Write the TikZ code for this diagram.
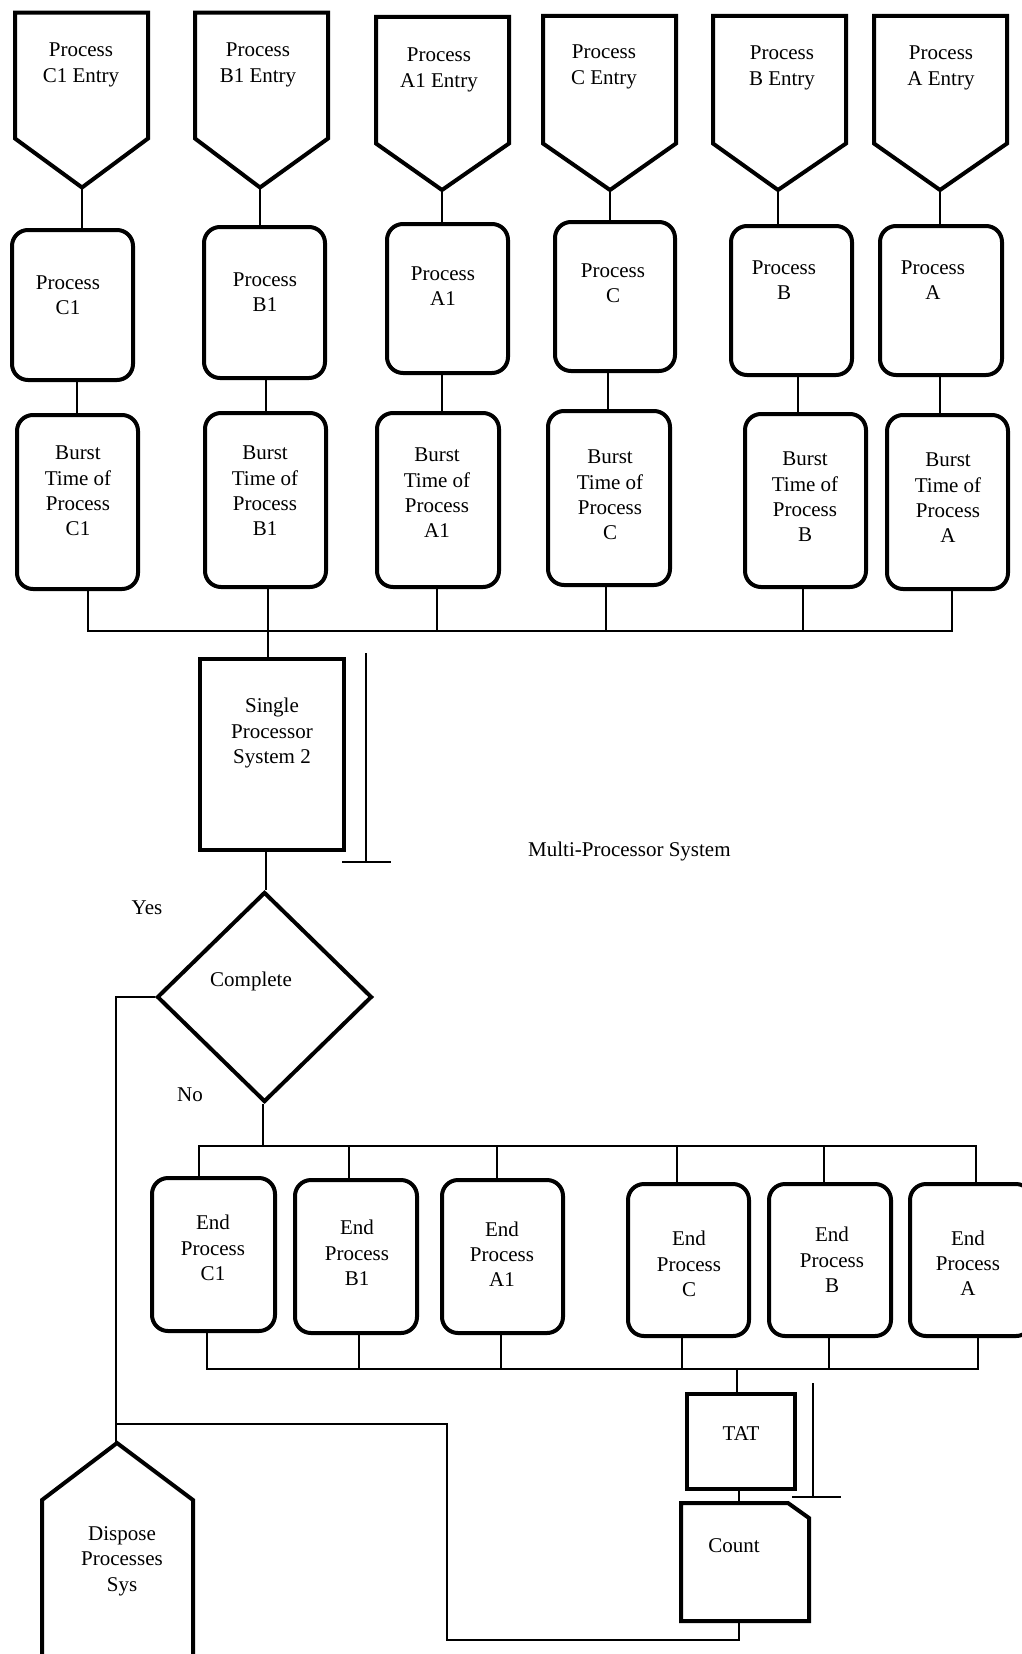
\documentclass[tikz,border=0pt]{standalone}
\usepackage{fontspec}
\setmainfont{Liberation Serif}
\usetikzlibrary{shapes.geometric,shapes.misc}
\tikzset{
  shp/.style={line width=4pt, line join=miter},
  rbox/.style={draw, line width=4pt, rounded corners=16pt, inner sep=0pt},
  sbox/.style={draw, line width=4pt, inner sep=0pt},
  conn/.style={line width=1.8pt},
  txt/.style={font=\fontsize{21}{25.3}\selectfont, align=center, inner sep=0pt, yshift=-3pt}
}
\begin{document}
\begin{tikzpicture}[x=1pt,y=-1pt]
\clip (0,0) rectangle (1022,1654);
\fill[white] (0,0) rectangle (1022,1654);

% ---------- entry shapes ----------
\draw[shp] (15,12.6) -- (148,12.6) -- (148,138.5) -- (82,187.5) -- (15,138.5) -- cycle;
\coordinate (tC1) at (82,187.5);
\node[txt] (etC1) at (81,62) {Process\\C1 Entry};
\draw[shp] (195,12.6) -- (328,12.6) -- (328,138.5) -- (260,187.5) -- (195,138.5) -- cycle;
\coordinate (tB1) at (260,187.5);
\node[txt] (etB1) at (258,62) {Process\\B1 Entry};
\draw[shp] (376,17) -- (509,17) -- (509,143.5) -- (442,190) -- (376,143.5) -- cycle;
\coordinate (tA1) at (442,190);
\node[txt] (etA1) at (439,67) {Process\\A1 Entry};
\draw[shp] (543,16) -- (676,16) -- (676,143.5) -- (610,190) -- (543,143.5) -- cycle;
\coordinate (tC) at (610,190);
\node[txt] (etC) at (604,64) {Process\\C Entry};
\draw[shp] (713,16) -- (846,16) -- (846,143.5) -- (778,190) -- (713,143.5) -- cycle;
\coordinate (tB) at (778,190);
\node[txt] (etB) at (782,65) {Process\\B Entry};
\draw[shp] (874,16) -- (1007,16) -- (1007,143.5) -- (940,190) -- (874,143.5) -- cycle;
\coordinate (tA) at (940,190);
\node[txt] (etA) at (941,65) {Process\\A Entry};

% ---------- process boxes ----------
\node[rbox, minimum width=121, minimum height=150] (pC1) at (72.5,305) {};
\node[txt] (ptC1) at (68,292) {Process\\C1};
\node[rbox, minimum width=121, minimum height=151] (pB1) at (264.5,302.5) {};
\node[txt] (ptB1) at (265,289) {Process\\B1};
\node[rbox, minimum width=121, minimum height=149] (pA1) at (447.5,298.5) {};
\node[txt] (ptA1) at (443,283) {Process\\A1};
\node[rbox, minimum width=120, minimum height=149] (pC) at (615,296.5) {};
\node[txt] (ptC) at (613,280) {Process\\C};
\node[rbox, minimum width=121, minimum height=149] (pB) at (791.5,300.5) {};
\node[txt] (ptB) at (784,277) {Process\\B};
\node[rbox, minimum width=122, minimum height=149] (pA) at (941,300.5) {};
\node[txt] (ptA) at (933,277) {Process\\A};

% ---------- burst boxes ----------
\node[rbox, minimum width=121, minimum height=174] (bC1) at (77.5,502) {};
\node[txt] (btC1) at (78,488) {Burst\\Time of\\Process\\C1};
\node[rbox, minimum width=121, minimum height=174] (bB1) at (265.5,500) {};
\node[txt] (btB1) at (265,488) {Burst\\Time of\\Process\\B1};
\node[rbox, minimum width=122, minimum height=174] (bA1) at (438,500) {};
\node[txt] (btA1) at (437,490) {Burst\\Time of\\Process\\A1};
\node[rbox, minimum width=122, minimum height=174] (bC) at (609,498) {};
\node[txt] (btC) at (610,492) {Burst\\Time of\\Process\\C};
\node[rbox, minimum width=121, minimum height=173] (bB) at (805.5,500.5) {};
\node[txt] (btB) at (805,494) {Burst\\Time of\\Process\\B};
\node[rbox, minimum width=121, minimum height=174] (bA) at (947.5,502) {};
\node[txt] (btA) at (948,495) {Burst\\Time of\\Process\\A};

% ---------- connectors top ----------
\draw[conn] (tC1) -- (tC1 |- pC1.north);
\draw[conn] (tB1) -- (tB1 |- pB1.north);
\draw[conn] (tA1) -- (tA1 |- pA1.north);
\draw[conn] (tC) -- (tC |- pC.north);
\draw[conn] (tB) -- (tB |- pB.north);
\draw[conn] (tA) -- (tA |- pA.north);

\draw[conn] (77,0 |- pC1.south) -- (77,0 |- bC1.north);
\draw[conn] (266,0 |- pB1.south) -- (266,0 |- bB1.north);
\draw[conn] (442,0 |- pA1.south) -- (442,0 |- bA1.north);
\draw[conn] (608,0 |- pC.south) -- (608,0 |- bC.north);
\draw[conn] (798,0 |- pB.south) -- (798,0 |- bB.north);
\draw[conn] (940,0 |- pA.south) -- (940,0 |- bA.north);

\coordinate (bar1L) at (88,631);
\coordinate (bar1R) at (952,631);
\draw[conn] (88,0 |- bC1.south) -- (bar1L) -- (bar1R) -- (952,0 |- bA.south);
\draw[conn] (268,0 |- bB1.south) -- (268,631);
\draw[conn] (437,0 |- bA1.south) -- (437,631);
\draw[conn] (606,0 |- bC.south) -- (606,631);
\draw[conn] (803,0 |- bB.south) -- (803,631);

% ---------- single processor ----------
\node[sbox, minimum width=144, minimum height=191] (sp) at (272,754.5) {};
\node[txt] (spt) at (272,730) {Single\\Processor\\System 2};
\draw[conn] (268,631) -- (268,0 |- sp.north);
\coordinate (br1t) at (366,653);
\coordinate (br1b) at (366,862);
\draw[conn] (br1t) -- (br1b);
\draw[conn] (342,862) -- (391,862);
\node[txt, anchor=west] (mps) at (528,848) {Multi-Processor System};

% ---------- decision ----------
\node[diamond, draw, line width=4pt, minimum width=215, minimum height=210, inner sep=0pt] (dia) at (264.5,997) {};
\node[txt] (diat) at (251,978) {Complete};
\draw[conn] (266,0 |- sp.south) -- (266,0 |- dia.north);
\node[txt] (yes) at (147,905) {Yes};
\node[txt] (no) at (190,1092) {No};

% ---------- end boxes ----------
\node[rbox, minimum width=123, minimum height=153] (eC1) at (213.5,1254.5) {};
\node[txt] (etxC1) at (213,1245) {End\\Process\\C1};
\node[rbox, minimum width=122, minimum height=153] (eB1) at (356,1256.5) {};
\node[txt] (etxB1) at (357,1250) {End\\Process\\B1};
\node[rbox, minimum width=121, minimum height=153] (eA1) at (502.5,1256.5) {};
\node[txt] (etxA1) at (502,1251) {End\\Process\\A1};
\node[rbox, minimum width=121, minimum height=152] (eC) at (688.5,1260) {};
\node[txt] (etxC) at (689,1261) {End\\Process\\C};
\node[rbox, minimum width=122, minimum height=152] (eB) at (830,1260) {};
\node[txt] (etxB) at (832,1257) {End\\Process\\B};
\node[rbox, minimum width=122, minimum height=152] (eA) at (971,1260) {};
\node[txt] (etxA) at (968,1260) {End\\Process\\A};

\draw[conn] (263,0 |- dia.south) -- (263,1146);
\coordinate (bar2L) at (199,1146);
\coordinate (bar2R) at (976,1146);
\draw[conn] (199,0 |- eC1.north) -- (bar2L) -- (bar2R) -- (976,0 |- eA.north);
\draw[conn] (349,1146) -- (349,0 |- eB1.north);
\draw[conn] (497,1146) -- (497,0 |- eA1.north);
\draw[conn] (677,1146) -- (677,0 |- eC.north);
\draw[conn] (824,1146) -- (824,0 |- eB.north);

\coordinate (bar3L) at (207,1369);
\coordinate (bar3R) at (978,1369);
\draw[conn] (207,0 |- eC1.south) -- (bar3L) -- (bar3R) -- (978,0 |- eA.south);
\draw[conn] (359,0 |- eB1.south) -- (359,1369);
\draw[conn] (501,0 |- eA1.south) -- (501,1369);
\draw[conn] (682,0 |- eC.south) -- (682,1369);
\draw[conn] (829,0 |- eB.south) -- (829,1369);

% ---------- TAT and Count ----------
\node[sbox, minimum width=108, minimum height=95] (tat) at (741,1441.5) {};
\node[txt] (tatt) at (741,1431) {TAT};
\draw[conn] (737,1369) -- (737,0 |- tat.north);
\coordinate (br2t) at (813,1383);
\coordinate (br2b) at (813,1497);
\draw[conn] (br2t) -- (br2b);
\draw[conn] (792,1497) -- (841,1497);

\draw[shp] (681,1503) -- (788,1503) -- (809,1518) -- (809,1621) -- (681,1621) -- cycle;
\coordinate (cntT) at (739,1503);
\coordinate (cntB) at (739,1621);
\node[txt] (cntt) at (734,1543) {Count};
\draw[conn] (739,0 |- tat.south) -- (cntT);

% ---------- dispose ----------
\draw[shp] (42,1680) -- (42,1500) -- (117,1443) -- (193,1500) -- (193,1680);
\coordinate (dsp) at (116,1443);
\node[txt] (dspt) at (122,1558) {Dispose\\Processes\\Sys};

% ---------- loops ----------
\draw[conn] (dia.west) -- (116,0 |- dia.west) -- (dsp);
\draw[conn] (cntB) -- (739,1640) -- (447,1640) -- (447,1424) -- (116,1424);
\end{tikzpicture}
\end{document}
